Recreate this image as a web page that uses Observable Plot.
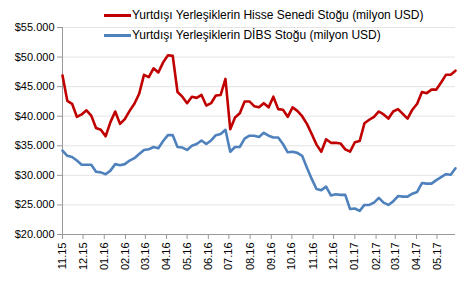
<!DOCTYPE html>
<html><head><meta charset="utf-8">
<script src="https://cdn.jsdelivr.net/npm/d3@7"></script>
<script src="https://cdn.jsdelivr.net/npm/@observablehq/plot@0.6"></script>
<style>
body{margin:0;background:#fff;}
#wrap{position:relative;width:472px;height:290px;font-family:"Liberation Sans",Arial,sans-serif;}
.leg{position:absolute;font-size:12px;color:#000;white-space:nowrap;display:flex;align-items:center;line-height:14px;}
.leg .sw{display:inline-block;width:27px;height:3px;margin-right:1px;}
</style></head><body>
<div id="wrap"></div>
<script>
const seriesNames = ["Yurtdışı Yerleşiklerin Hisse Senedi Stoğu (milyon USD)", "Yurtdışı Yerleşiklerin DİBS Stoğu (milyon USD)"];
const seriesColors = ["#C00000", "#4F81BD"];
// weekly observations starting 2015-11-01
const startDate = Date.UTC(2015, 10, 1);
const hisse = [46.9,42.6,42.1,39.9,40.3,41.0,40.1,38.0,37.7,36.6,39.0,40.8,38.7,39.5,40.9,42.1,43.8,47.0,46.6,48.1,47.4,49.1,50.3,50.2,44.1,43.3,42.2,43.3,43.1,43.6,41.8,42.2,43.5,43.6,46.3,37.8,39.8,40.5,42.5,42.5,41.7,41.5,42.2,41.5,43.3,41.2,41.1,39.9,41.5,40.9,40.0,38.7,37.0,35.2,34.0,36.1,35.5,35.5,35.4,34.4,34.0,35.6,35.8,38.8,39.4,39.9,40.8,40.3,39.6,40.8,41.2,40.4,39.6,41.1,42.1,44.1,43.9,44.5,44.5,45.7,47.0,47.0,47.7];
const dibs = [34.2,33.3,33.1,32.5,31.8,31.8,31.8,30.6,30.5,30.2,30.8,31.9,31.7,31.9,32.5,32.9,33.6,34.3,34.4,34.8,34.6,35.8,36.8,36.8,34.8,34.7,34.3,35.0,35.3,35.9,35.3,35.9,36.8,37.0,37.7,34.0,34.8,34.8,36.2,36.7,36.7,36.5,37.2,36.7,36.4,36.4,35.3,33.9,34.0,33.8,33.3,31.3,29.4,27.7,27.5,28.1,26.6,26.8,26.7,26.7,24.3,24.4,24.0,25.0,25.0,25.4,26.2,25.4,25.0,25.6,26.5,26.4,26.4,26.9,27.2,28.7,28.6,28.6,29.2,29.7,30.2,30.1,31.2];
const yTicks = [20000,25000,30000,35000,40000,45000,50000,55000];

const week = 7*864e5;
const rows = [];
hisse.forEach((v,i)=>rows.push({date:new Date(startDate+i*week), value:v*1000, s:seriesNames[0]}));
dibs.forEach((v,i)=>rows.push({date:new Date(startDate+i*week), value:v*1000, s:seriesNames[1]}));
const d0 = new Date(startDate), d1 = new Date(startDate+(hisse.length-1)*week);
const xTicks = d3.utcMonth.range(new Date(Date.UTC(2015,10,1)), new Date(Date.UTC(2017,5,1)));
const fmtY = d => "$" + d3.format(",")(d).replace(/,/g,".");

const chart = Plot.plot({
  width: 472, height: 290,
  marginLeft: 62, marginRight: 17, marginTop: 27, marginBottom: 56,
  style: {fontFamily: '"Liberation Sans", Arial, sans-serif', fontSize: "11px", color: "#000", background: "#fff"},
  x: {type: "utc", domain: [d0, d1]},
  y: {domain: [20000, 55000]},
  color: {domain: seriesNames, range: seriesColors},
  marks: [
    Plot.gridY(yTicks, {stroke: "#e4e4e4", strokeOpacity: 1}),
    Plot.axisY(yTicks, {tickFormat: fmtY, tickSize: 5, tickPadding: 3, stroke: "#999", label: null}),
    Plot.axisX(xTicks, {tickFormat: d3.utcFormat("%m.%y"), tickRotate: -90, tickSize: 5, tickPadding: 3, stroke: "#999", label: null}),
    Plot.ruleX([d0], {stroke: "#999"}),
    Plot.ruleY([20000], {stroke: "#999"}),
    Plot.line(rows, {x: "date", y: "value", z: "s", stroke: "s", strokeWidth: 2.6, curve: "linear"})
  ]
});
const wrap = document.getElementById("wrap");
wrap.appendChild(chart);
seriesNames.forEach((n,i)=>{
  const d = document.createElement("div");
  d.className = "leg";
  d.style.left = "104px";
  d.style.top = (8 + i*20) + "px";
  d.innerHTML = `<span class="sw" style="background:${seriesColors[i]}"></span>${n}`;
  wrap.appendChild(d);
});
</script>
</body></html>
